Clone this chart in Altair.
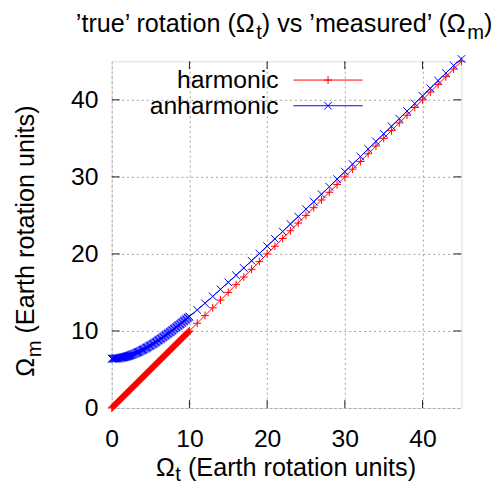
import altair as alt
import pandas as pd

# Omega_t sample positions (dense 0..10 step 0.1, then unit steps to 45)
omega_t = [0.0, 0.1, 0.2, 0.3, 0.4, 0.5, 0.6, 0.7, 0.8, 0.9,
           1.0, 1.1, 1.2, 1.3, 1.4, 1.5, 1.6, 1.7, 1.8, 1.9,
           2.0, 2.1, 2.2, 2.3, 2.4, 2.5, 2.6, 2.7, 2.8, 2.9,
           3.0, 3.1, 3.2, 3.3, 3.4, 3.5, 3.6, 3.7, 3.8, 3.9,
           4.0, 4.1, 4.2, 4.3, 4.4, 4.5, 4.6, 4.7, 4.8, 4.9,
           5.0, 5.1, 5.2, 5.3, 5.4, 5.5, 5.6, 5.7, 5.8, 5.9,
           6.0, 6.1, 6.2, 6.3, 6.4, 6.5, 6.6, 6.7, 6.8, 6.9,
           7.0, 7.1, 7.2, 7.3, 7.4, 7.5, 7.6, 7.7, 7.8, 7.9,
           8.0, 8.1, 8.2, 8.3, 8.4, 8.5, 8.6, 8.7, 8.8, 8.9,
           9.0, 9.1, 9.2, 9.3, 9.4, 9.5, 9.6, 9.7, 9.8, 9.9,
           10.0, 11, 12, 13, 14, 15, 16, 17, 18, 19, 20, 21, 22, 23, 24, 25, 26, 27, 28,
           29, 30, 31, 32, 33, 34, 35, 36, 37, 38, 39, 40, 41, 42, 43, 44, 45]

harmonic_m = [0.0, 0.1, 0.2, 0.3, 0.4, 0.5, 0.6, 0.7, 0.8, 0.9,
              1.0, 1.1, 1.2, 1.3, 1.4, 1.5, 1.6, 1.7, 1.8, 1.9,
              2.0, 2.1, 2.2, 2.3, 2.4, 2.5, 2.6, 2.7, 2.8, 2.9,
              3.0, 3.1, 3.2, 3.3, 3.4, 3.5, 3.6, 3.7, 3.8, 3.9,
              4.0, 4.1, 4.2, 4.3, 4.4, 4.5, 4.6, 4.7, 4.8, 4.9,
              5.0, 5.1, 5.2, 5.3, 5.4, 5.5, 5.6, 5.7, 5.8, 5.9,
              6.0, 6.1, 6.2, 6.3, 6.4, 6.5, 6.6, 6.7, 6.8, 6.9,
              7.0, 7.1, 7.2, 7.3, 7.4, 7.5, 7.6, 7.7, 7.8, 7.9,
              8.0, 8.1, 8.2, 8.3, 8.4, 8.5, 8.6, 8.7, 8.8, 8.9,
              9.0, 9.1, 9.2, 9.3, 9.4, 9.5, 9.6, 9.7, 9.8, 9.9,
              10.0, 11, 12, 13, 14, 15, 16, 17, 18, 19, 20, 21, 22, 23, 24, 25, 26, 27, 28,
              29, 30, 31, 32, 33, 34, 35, 36, 37, 38, 39, 40, 41, 42, 43, 44, 45]

anharmonic_m = [6.40, 6.40, 6.41, 6.41, 6.42, 6.42, 6.43, 6.44, 6.45, 6.47,
                6.48, 6.50, 6.51, 6.53, 6.55, 6.58, 6.60, 6.62, 6.65, 6.68,
                6.71, 6.74, 6.77, 6.80, 6.84, 6.87, 6.91, 6.95, 6.99, 7.03,
                7.07, 7.11, 7.16, 7.20, 7.25, 7.30, 7.35, 7.40, 7.45, 7.50,
                7.55, 7.60, 7.66, 7.71, 7.77, 7.83, 7.88, 7.94, 8.00, 8.06,
                8.12, 8.19, 8.25, 8.31, 8.38, 8.44, 8.51, 8.57, 8.64, 8.71,
                8.78, 8.84, 8.91, 8.98, 9.05, 9.12, 9.20, 9.27, 9.34, 9.41,
                9.49, 9.56, 9.64, 9.71, 9.79, 9.86, 9.94, 10.01, 10.09, 10.17,
                10.25, 10.33, 10.40, 10.48, 10.56, 10.64, 10.72, 10.80, 10.88, 10.96,
                11.05, 11.13, 11.21, 11.29, 11.37, 11.46, 11.54, 11.62, 11.71, 11.79,
                11.87,
                12.73, 13.60, 14.49, 15.40, 16.31, 17.23, 18.17, 19.11, 20.05, 21.00,
                21.95, 22.91, 23.88, 24.84, 25.81, 26.78, 27.75, 28.72, 29.70, 30.68,
                31.65, 32.63, 33.62, 34.60, 35.58, 36.57, 37.55, 38.54, 39.52, 40.51,
                41.50, 42.49, 43.47, 44.46, 45.3]

tick_values = [10, 20, 30, 40]
axis_labels = [0, 10, 20, 30, 40]

W, H = 354, 351
FONT = "Liberation Sans"
FS_TICK = 25
FS_LEG = 25
FS_T = 25.5
FS_SUB = 20.4
RED = "#ff0000"
BLUE = "#0000ff"
PLUS = "M-1,0L1,0M0,-1L0,1"
CROSS = "M-1,-1L1,1M-1,1L1,-1"

harm = pd.DataFrame({"x": omega_t, "y": harmonic_m, "i": range(len(omega_t))})
anh = pd.DataFrame({"x": omega_t, "y": anharmonic_m, "i": range(len(omega_t))})
ticks = pd.DataFrame({"v": tick_values})

xscale = alt.Scale(domain=[0, 45], nice=False)
yscale = alt.Scale(domain=[0, 45], nice=False)

xaxis = alt.Axis(values=axis_labels, ticks=False, domain=False, grid=True,
                 gridDash=[2, 3], gridColor="#a0a0a0", gridWidth=1,
                 labelFont=FONT, labelFontSize=FS_TICK, labelColor="black",
                 labelPadding=19, title=None, labelFlush=False)
yaxis = alt.Axis(values=axis_labels, ticks=False, domain=False, grid=True,
                 gridDash=[2, 3], gridColor="#a0a0a0", gridWidth=1,
                 labelFont=FONT, labelFontSize=FS_TICK, labelColor="black",
                 labelPadding=14, title=None, labelFlush=False)


def series(df, color, shape, size):
    base = alt.Chart(df)
    line = base.mark_line(color=color, strokeWidth=1, clip=False).encode(
        x=alt.X("x:Q", scale=xscale, axis=xaxis),
        y=alt.Y("y:Q", scale=yscale, axis=yaxis),
        order="i:Q")
    pts = base.mark_point(shape=shape, filled=False, color=color, size=size,
                          strokeWidth=1, opacity=1, clip=False).encode(
        x=alt.X("x:Q", scale=xscale, axis=xaxis),
        y=alt.Y("y:Q", scale=yscale, axis=yaxis))
    return line + pts


harm_layer = series(harm, RED, PLUS, 64)
anh_layer = series(anh, BLUE, CROSS, 60)

tk = alt.Chart(ticks)
tick_color = "#222"
bottom_ticks = tk.mark_rule(color=tick_color, strokeWidth=1).encode(
    x=alt.X("v:Q", scale=xscale), y=alt.value(H), y2=alt.value(H - 8))
top_ticks = tk.mark_rule(color=tick_color, strokeWidth=1).encode(
    x=alt.X("v:Q", scale=xscale), y=alt.value(0), y2=alt.value(8))
left_ticks = tk.mark_rule(color=tick_color, strokeWidth=1).encode(
    y=alt.Y("v:Q", scale=yscale), x=alt.value(0), x2=alt.value(8))
right_ticks = tk.mark_rule(color=tick_color, strokeWidth=1).encode(
    y=alt.Y("v:Q", scale=yscale), x=alt.value(W), x2=alt.value(W - 8))

one = alt.Chart(pd.DataFrame({"a": [0]}))


def txt(text, x, y, align="left", baseline="alphabetic", angle=0, size=FS_T):
    kw = dict(text=text, align=align, baseline=baseline, font=FONT,
              fontSize=size, color="black")
    if angle:
        kw["angle"] = angle
    return one.mark_text(**kw).encode(x=alt.value(x), y=alt.value(y))


SPACE = 0.278 * FS_T

# Chart title with real subscripts (pieces laid out left to right)
ty = -30
title_parts = [
    txt("\u2019true\u2019 rotation (\u03a9", -36.3, ty),
    txt("t", 146.2, ty + 7, size=FS_SUB),
    txt(") vs \u2019measured\u2019 (\u03a9", 151.9, ty),
    txt("m", 359.9, ty + 7, size=FS_SUB),
    txt(")", 376.9, ty),
]

# x-axis title
xy = 420
xtitle_parts = [
    txt("\u03a9", 44.8, xy),
    txt("t", 64.4, xy + 5, size=FS_SUB),
    txt("(Earth rotation units)", 70.1 + SPACE, xy),
]

# y-axis title (rotated, reading bottom to top)
yx = -79
y0 = 319.3
ytitle_parts = [
    txt("\u03a9", yx, y0, angle=270),
    txt("m", yx + 7, y0 - 19.6, angle=270, size=FS_SUB),
    txt("(Earth rotation units)", yx, y0 - 36.6 - SPACE, angle=270),
]

leg_h_text = txt("harmonic", 169, 19, align="right", baseline="middle", size=FS_LEG)
leg_a_text = txt("anharmonic", 169, 45, align="right", baseline="middle", size=FS_LEG)
leg_h_line = one.mark_rule(color=RED, strokeWidth=1).encode(
    x=alt.value(184), x2=alt.value(254), y=alt.value(19))
leg_a_line = one.mark_rule(color=BLUE, strokeWidth=1).encode(
    x=alt.value(184), x2=alt.value(254), y=alt.value(45))
leg_h_pt = one.mark_point(shape=PLUS, filled=False, color=RED, size=64,
                          strokeWidth=1, opacity=1).encode(x=alt.value(219), y=alt.value(19))
leg_a_pt = one.mark_point(shape=CROSS, filled=False, color=BLUE, size=60,
                          strokeWidth=1, opacity=1).encode(x=alt.value(219), y=alt.value(45))

chart = alt.layer(
    harm_layer, anh_layer,
    bottom_ticks, top_ticks, left_ticks, right_ticks,
    leg_h_text, leg_a_text, leg_h_line, leg_a_line, leg_h_pt, leg_a_pt,
    *title_parts, *xtitle_parts, *ytitle_parts,
).properties(
    width=W, height=H,
    autosize=alt.AutoSizeParams(type="none"),
    padding={"left": 105, "top": 51, "right": 33, "bottom": 75},
).configure_view(
    stroke="#222", strokeWidth=1.5
).configure(background="white")

chart.save("out.html", embed_options={"renderer": "svg", "actions": False})
